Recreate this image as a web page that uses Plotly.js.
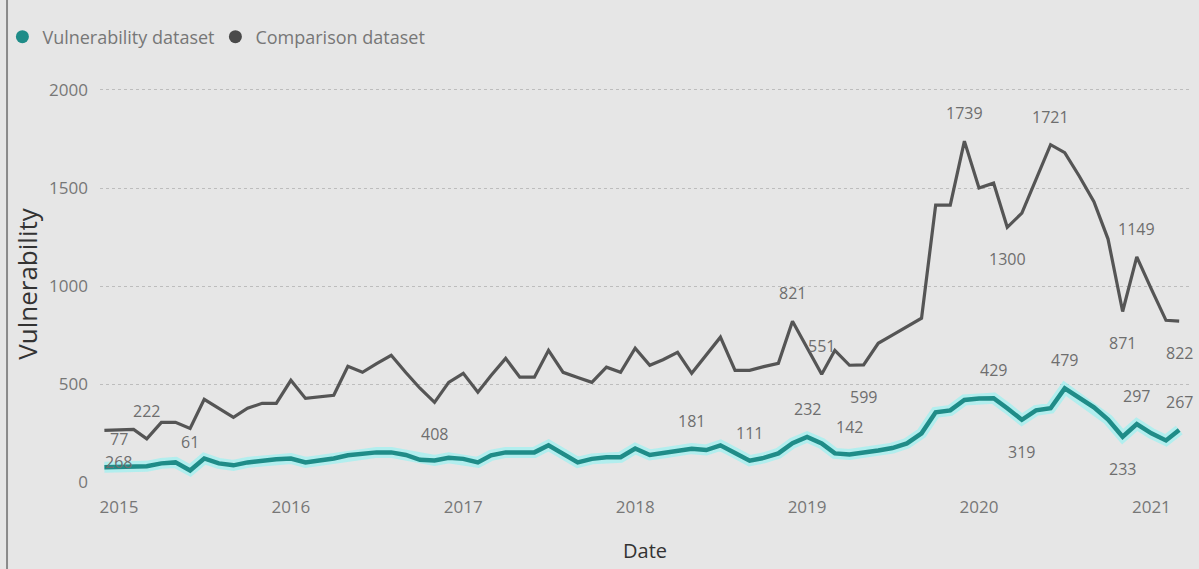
<!DOCTYPE html>
<html>
<head>
<meta charset="utf-8">
<script src="https://cdn.plot.ly/plotly-3.0.1.min.js"></script>
<style>
  html, body { margin: 0; padding: 0; background: #e6e6e6; }
  #chart { width: 1199px; height: 569px; }
</style>
</head>
<body>
<div id="chart"></div>
<script>
// ---- data ----
const months = [
  '2014-12',
  '2015-01','2015-02','2015-03','2015-04','2015-05','2015-06','2015-07','2015-08','2015-09','2015-10','2015-11','2015-12',
  '2016-01','2016-02','2016-03','2016-04','2016-05','2016-06','2016-07','2016-08','2016-09','2016-10','2016-11','2016-12',
  '2017-01','2017-02','2017-03','2017-04','2017-05','2017-06','2017-07','2017-08','2017-09','2017-10','2017-11','2017-12',
  '2018-01','2018-02','2018-03','2018-04','2018-05','2018-06','2018-07','2018-08','2018-09','2018-10','2018-11','2018-12',
  '2019-01','2019-02','2019-03','2019-04','2019-05','2019-06','2019-07','2019-08','2019-09','2019-10','2019-11','2019-12',
  '2020-01','2020-02','2020-03','2020-04','2020-05','2020-06','2020-07','2020-08','2020-09','2020-10','2020-11','2020-12',
  '2021-01','2021-02','2021-03'
];

const comparison = [
  265,
  268, 270, 222, 306, 306, 275, 423, 378, 332, 378, 403, 403,
  520, 428, 436, 444, 592, 561, 605, 648, 560, 480, 408, 510,
  556, 460, 545, 632, 536, 536, 673, 561, 535, 510, 587, 561,
  684, 597, 625, 663, 556, 650, 740, 571, 571, 590, 607, 821,
  689, 551, 673, 597, 599, 709, 750, 795, 837, 1413, 1413, 1739,
  1500, 1525, 1300, 1372, 1545, 1721, 1680, 1560, 1430, 1240, 871, 1149,
  985, 826, 822
];

const vulnerability = [
  77,
  77, 77, 82, 97, 102, 61, 122, 97, 87, 102, 112, 118,
  122, 102, 112, 122, 138, 148, 153, 153, 140, 115, 112, 125,
  120, 102, 138, 153, 153, 153, 189, 145, 102, 120, 128, 128,
  173, 140, 150, 163, 172, 165, 189, 150, 111, 125, 148, 200,
  232, 199, 148, 142, 150, 163, 175, 199, 250, 357, 367, 420,
  428, 429, 378, 319, 367, 378, 479, 430, 383, 320, 233, 297,
  250, 214, 267
];

const compLabelMonths = ['2015-01','2015-03','2016-11','2018-12','2019-02','2019-05','2019-12','2020-03','2020-06','2020-11','2020-12','2021-03'];
const compLabelText   = ['268','222','408','821','551','599','1739','1300','1721','871','1149','822'];
const compLabelPos    = ['below','above','below','above','above','below','above','below','above','below','above','below'];

const vulnLabelMonths = ['2015-01','2015-06','2018-05','2018-09','2019-01','2019-04','2020-02','2020-04','2020-07','2020-11','2020-12','2021-03'];
const vulnLabelText   = ['77','61','181','111','232','142','429','319','479','233','297','267'];
const vulnLabelPos    = ['above','above','above','above','above','above','above','below','above','below','above','above'];

const yTicks = [0, 500, 1000, 1500, 2000];
const xTicks = ['2015-01-01','2016-01-01','2017-01-01','2018-01-01','2019-01-01','2020-01-01','2021-01-01'];
const xTickText = ['2015','2016','2017','2018','2019','2020','2021'];

// ---- styling ----
const FONT = 'Open Sans, Segoe UI, DejaVu Sans, sans-serif';
const TEAL = '#1f8c88';
const GREY = '#555555';

function labelAnnotations(lMonths, lText, lPos, series) {
  return lMonths.map((m, i) => {
    const idx = months.indexOf(m);
    return {
      x: m + '-01', y: series[idx], xref: 'x', yref: 'y',
      text: lText[i], showarrow: false,
      yshift: lPos[i] === 'above' ? 28 : -32,
      font: {family: FONT, size: 16, color: '#6e6e6e'}
    };
  });
}

const traces = [
  {x: months, y: vulnerability, type: 'scatter', mode: 'lines',
   line: {color: 'rgba(160,240,240,0.75)', width: 11}, hoverinfo: 'skip', showlegend: false},
  {x: months, y: vulnerability, type: 'scatter', mode: 'lines', name: 'Vulnerability dataset',
   line: {color: TEAL, width: 4.5}, showlegend: false, legendgroup: 'v'},
  {x: months, y: comparison, type: 'scatter', mode: 'lines', name: 'Comparison dataset',
   line: {color: GREY, width: 3.2}, showlegend: false, legendgroup: 'c'},
  {x: [null], y: [null], type: 'scatter', mode: 'markers', name: 'Vulnerability dataset',
   marker: {color: TEAL, size: 13, symbol: 'circle'}, legendgroup: 'v'},
  {x: [null], y: [null], type: 'scatter', mode: 'markers', name: 'Comparison dataset',
   marker: {color: '#4a4a4a', size: 13, symbol: 'circle'}, legendgroup: 'c'}
];

const layout = {
  width: 1199, height: 569,
  paper_bgcolor: '#e6e6e6', plot_bgcolor: '#e6e6e6',
  margin: {l: 100, r: 9, t: 85, b: 86, autoexpand: false},
  font: {family: FONT, color: '#777'},
  showlegend: true,
  legend: {
    orientation: 'h', xref: 'container', yref: 'container',
    x: 0.002, xanchor: 'left', y: 0.935, yanchor: 'middle',
    font: {family: FONT, size: 18, color: '#777'},
    entrywidth: 168, entrywidthmode: 'pixels',
    bgcolor: 'rgba(0,0,0,0)', itemclick: false, traceorder: 'normal'
  },
  xaxis: {
    type: 'date',
    range: ['2014-11-21 17:00', '2021-03-24'],
    tickvals: xTicks, ticktext: xTickText,
    showgrid: false, zeroline: false, showline: false,
    ticks: '', ticklabelstandoff: 12,
    tickfont: {family: FONT, size: 17, color: '#777'},
    title: {text: 'Date', font: {family: FONT, size: 20, color: '#333'}, standoff: 26}
  },
  yaxis: {
    range: [-3, 2025],
    tickvals: yTicks,
    showgrid: true, gridcolor: '#bdbdbd', griddash: 'dot', gridwidth: 1,
    zeroline: false, showline: false, ticks: '', ticklabelstandoff: 11,
    tickfont: {family: FONT, size: 17, color: '#777'},
    title: {text: 'Vulnerability', font: {family: FONT, size: 26, color: '#333'}, standoff: 4}
  },
  annotations: [].concat(
    labelAnnotations(compLabelMonths, compLabelText, compLabelPos, comparison),
    labelAnnotations(vulnLabelMonths, vulnLabelText, vulnLabelPos, vulnerability)
  ),
  shapes: [
    {type: 'line', xref: 'paper', yref: 'paper', x0: -0.0853, x1: -0.0853, y0: -0.22, y1: 1.22,
     line: {color: '#8a8a8a', width: 2}}
  ]
};

Plotly.newPlot('chart', traces, layout, {displayModeBar: false, staticPlot: true});
</script>
</body>
</html>
